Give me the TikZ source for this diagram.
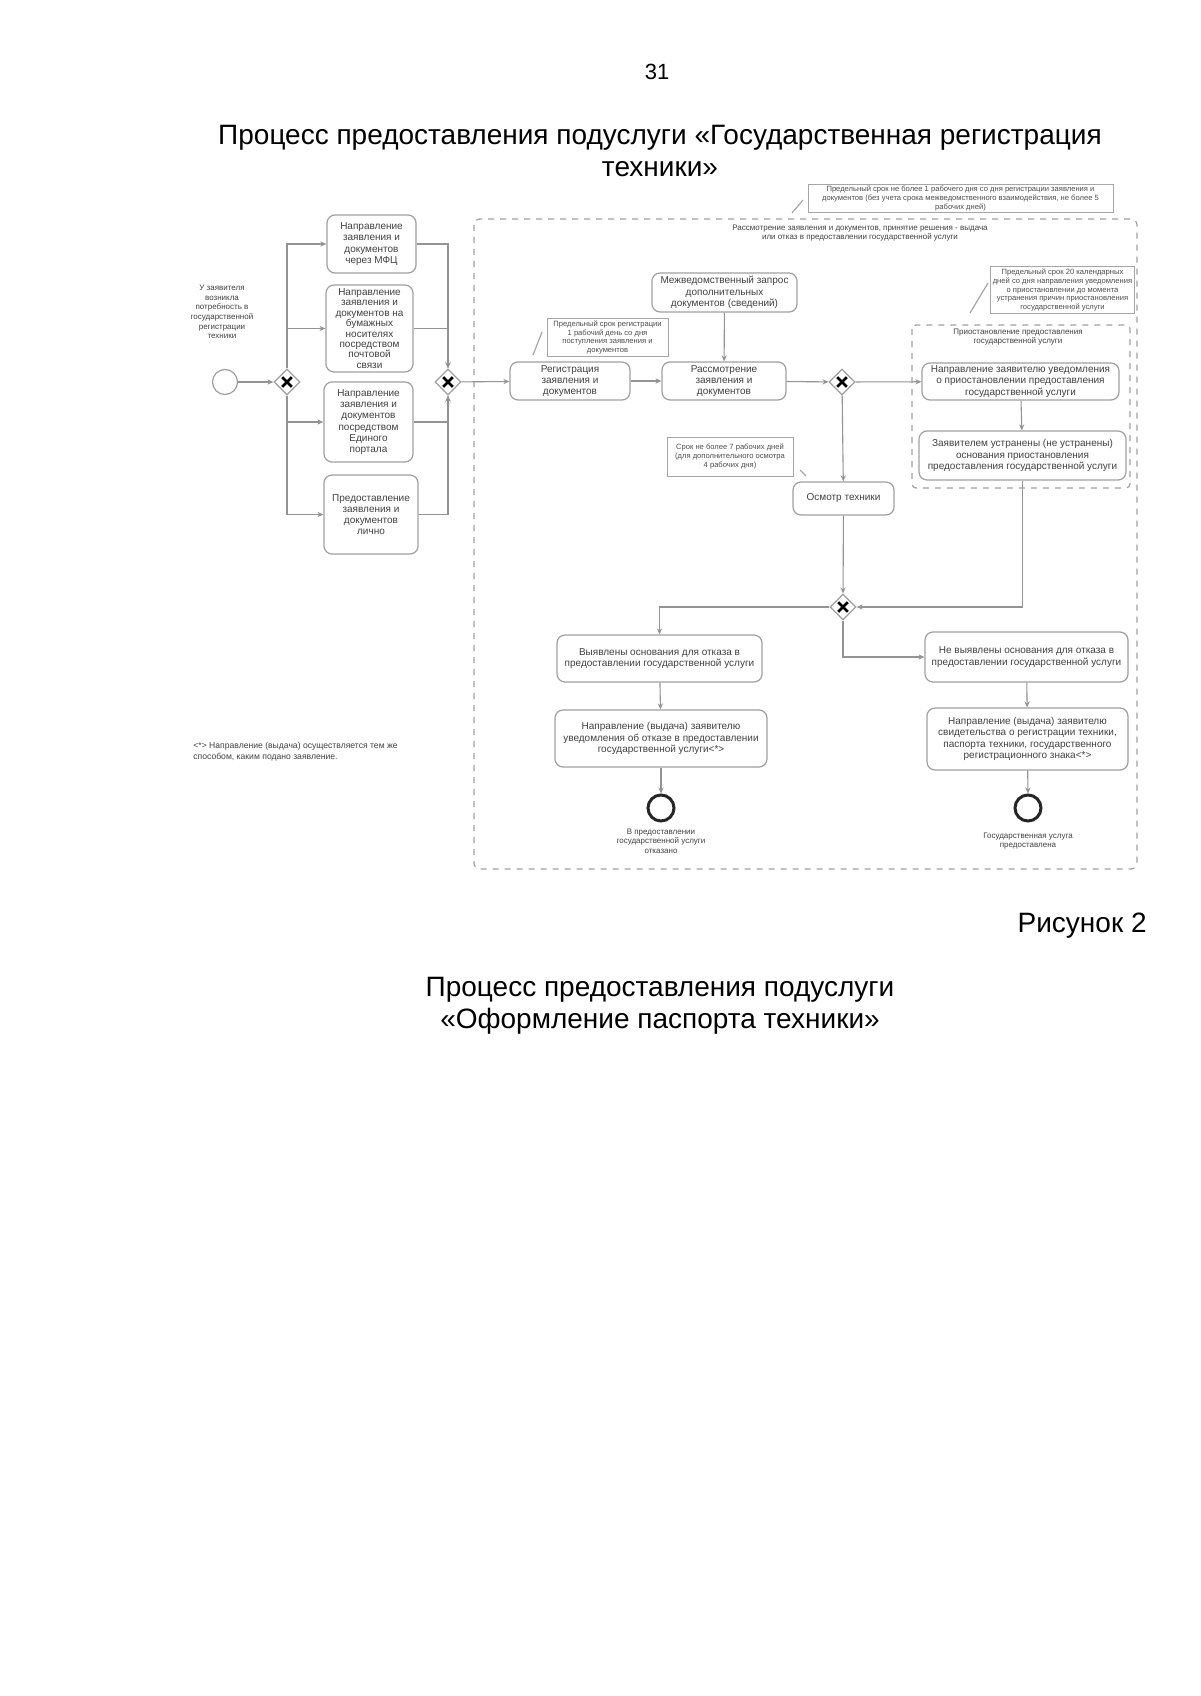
\documentclass[tikz,border=0pt]{standalone}
\usepackage{fontspec}
\setmainfont{Liberation Sans}
\usetikzlibrary{shapes.geometric,arrows.meta,calc}
\begin{document}
\begin{tikzpicture}[x=0.5pt,y=-0.5pt,
  task/.style={draw=gray!75, rounded corners=4pt, align=center, text=black!75,
    font=\fontsize{5}{5.6}\selectfont, inner sep=1pt, line width=0.6pt},
  annot/.style={draw=gray!70, align=center, text=black!70,
    font=\fontsize{3.8}{4.4}\selectfont, inner sep=1pt, line width=0.5pt},
  lbl/.style={align=center, text=black!75, font=\fontsize{4}{4.8}\selectfont, inner sep=0pt},
  gw/.style={diamond, draw=gray!75, fill=white, minimum size=13pt, inner sep=0pt, line width=0.6pt,
    path picture={
      \draw[line width=1.4pt,black] ([shift={(-2.4pt,-2.4pt)}]path picture bounding box.center) -- ([shift={(2.4pt,2.4pt)}]path picture bounding box.center);
      \draw[line width=1.4pt,black] ([shift={(-2.4pt,2.4pt)}]path picture bounding box.center) -- ([shift={(2.4pt,-2.4pt)}]path picture bounding box.center);}},
  startev/.style={circle, draw=gray!75, minimum size=12.5pt, inner sep=0pt, line width=0.6pt},
  endev/.style={circle, draw=black!85, minimum size=13pt, inner sep=0pt, line width=1.5pt},
  flow/.style={draw=gray!85, line width=0.55pt, -{Stealth[length=3pt,width=2.6pt]}},
  assoc/.style={draw=gray!70, line width=0.6pt},
  title/.style={font=\fontsize{14}{16}\selectfont, align=center, inner sep=0pt}
]
\useasboundingbox (0,0) rectangle (1200,1696);

% page texts
\node[font=\fontsize{11}{13}\selectfont, inner sep=0pt] (pnum) at (657,72) {31};
\node[title] (t1) at (660,151) {Процесс предоставления подуслуги «Государственная регистрация\\техники»};
\node[title, anchor=east] (fig) at (1147,926) {Рисунок 2};
\node[title] (t2) at (660,1006) {Процесс предоставления подуслуги\\«Оформление паспорта техники»};

% container and group
\draw[dashed, gray!75, line width=0.6pt, rounded corners=3pt] (474,219) rectangle (1137,869);
\node[lbl] (clbl) at (860,233) {Рассмотрение заявления и документов, принятие решения - выдача\\или отказ в предоставлении государственной услуги};
\draw[dashed, gray!75, line width=0.6pt, rounded corners=2pt] (912,325) rectangle (1130,488);
\node[lbl] (glbl) at (1018,337) {Приостановление предоставления\\государственной услуги};

% start
\node[startev] (start) at (225,382) {};
\node[lbl] (slbl) at (222,312) {У заявителя\\возникла\\потребность в\\государственной\\регистрации\\техники};
\node[gw] (gw1) at (287,382) {};
\node[gw] (gw2) at (448,382) {};

% submission tasks
\node[task, minimum width=44.5pt, minimum height=29pt] (b1) at (371.5,244) {Направление\\заявления и\\документов\\через МФЦ};
\node[task, minimum width=43.5pt, minimum height=43.5pt, font=\fontsize{5}{5.2}\selectfont] (b2) at (369.5,328.5) {Направление\\заявления и\\документов на\\бумажных\\носителях\\посредством\\почтовой\\связи};
\node[task, minimum width=44.5pt, minimum height=40pt] (b3) at (368.5,422) {Направление\\заявления и\\документов\\посредством\\Единого\\портала};
\node[task, minimum width=47pt, minimum height=39.5pt] (b4) at (371,514.5) {Предоставление\\заявления и\\документов\\лично};

% main tasks
\node[task, minimum width=60pt, minimum height=19pt] (reg) at (570,381) {Регистрация\\заявления и\\документов};
\node[task, minimum width=62pt, minimum height=19pt] (ras) at (724,381) {Рассмотрение\\заявления и\\документов};
\node[task, minimum width=72.5pt, minimum height=19.5pt] (mezh) at (724.5,292.5) {Межведомственный запрос\\дополнительных\\документов (сведений)};
\node[gw] (gw3) at (842,382) {};
\node[task, minimum width=98.5pt, minimum height=18.5pt] (napr) at (1020.5,381.5) {Направление заявителю уведомления\\о приостановлении предоставления\\государственной услуги};
\node[task, minimum width=103.5pt, minimum height=24.5pt] (zayav) at (1022.5,455.5) {Заявителем устранены (не устранены)\\основания приостановления\\предоставления государственной услуги};
\node[task, minimum width=50.5pt, minimum height=16.5pt] (osm) at (843.5,498.5) {Осмотр техники};
\node[gw] (gw4) at (843,607) {};
\node[task, minimum width=102.5pt, minimum height=23.5pt] (vyyav) at (659.5,658.5) {Выявлены основания для отказа в\\предоставлении государственной услуги};
\node[task, minimum width=106pt, minimum height=28.5pt] (otkaz) at (661,738.5) {Направление (выдача) заявителю\\уведомления об отказе в предоставлении\\государственной услуги<*>};
\node[endev] (end1) at (661,808) {};
\node[lbl] (e1lbl) at (661,841) {В предоставлении\\государственной услуги\\отказано};
\node[task, minimum width=101.5pt, minimum height=25pt] (nevyyav) at (1026.5,657) {Не выявлены основания для отказа в\\предоставлении государственной услуги};
\node[task, minimum width=100.5pt, minimum height=31pt] (vydacha) at (1027.5,739) {Направление (выдача) заявителю\\свидетельства о регистрации техники,\\паспорта техники, государственного\\регистрационного знака<*>};
\node[endev] (end2) at (1028,808) {};
\node[lbl] (e2lbl) at (1028,841) {Государственная услуга\\предоставлена};

% annotations
\node[annot, minimum width=152.5pt, minimum height=13.5pt] (antop) at (960.5,198.5) {Предельный срок не более 1 рабочего дня со дня регистрации заявления и\\документов (без учета срока межведомственного взаимодействия, не более 5\\рабочих дней)};
\coordinate (atop1) at (792,213); \coordinate (atop2) at (803,200);
\draw[assoc] (atop1) -- (atop2);
\node[annot, minimum width=69.5pt, minimum height=22pt] (anright) at (1062.5,290) {Предельный срок 20 календарных\\дней со дня направления уведомления\\о приостановлении до момента\\устранения причин приостановления\\государственной услуги};
\coordinate (ar1) at (970,313); \coordinate (ar2) at (988,283);
\draw[assoc] (ar1) -- (ar2);
\node[annot, minimum width=60.5pt, minimum height=17.5pt] (anreg) at (607.5,337.5) {Предельный срок регистрации\\1 рабочий день со дня\\поступления заявления и\\документов};
\coordinate (ag1) at (533,355); \coordinate (ag2) at (542,332);
\draw[assoc] (ag1) -- (ag2);
\node[annot, minimum width=63pt, minimum height=19.5pt] (anosm) at (730,456.5) {Срок не более 7 рабочих дней\\(для дополнительного осмотра\\4 рабочих дня)};
\coordinate (ao1) at (800,470); \coordinate (ao2) at (806,476);
\draw[assoc] (ao1) -- (ao2);

% footnote
\node[lbl, align=left, anchor=north west, font=\fontsize{4.3}{5.2}\selectfont] (foot) at (193,742) {<*> Направление (выдача) осуществляется тем же\\способом, каким подано заявление.};

% flows
\draw[flow] (start) -- (gw1);
\draw[flow] (gw1.north) |- (b1.west);
\draw[flow] (gw1.north) |- (b2.west);
\draw[flow] (gw1.south) |- (b3.west);
\draw[flow] (gw1.south) |- (b4.west);
\draw[flow] (b1.east) -| (gw2.north);
\draw[flow] (b2.east) -| (gw2.north);
\draw[flow] (b3.east) -| (gw2.south);
\draw[flow] (b4.east) -| (gw2.south);
\draw[flow] (gw2) -- (reg);
\draw[flow] (reg) -- (ras);
\draw[flow] (mezh) -- (ras);
\draw[flow] (ras) -- (gw3);
\draw[flow] (gw3) -- (napr);
\draw[flow] (napr) -- (zayav);
\draw[flow] (gw3) -- (osm);
\draw[flow] (osm) -- (gw4);
\draw[flow] (zayav.south) |- (gw4.east);
\draw[flow] (gw4.west) -| (vyyav.north);
\draw[flow] (gw4.south) |- (nevyyav.west);
\draw[flow] (vyyav) -- (otkaz);
\draw[flow] (otkaz) -- (end1);
\draw[flow] (nevyyav) -- (vydacha);
\draw[flow] (vydacha) -- (end2);
\end{tikzpicture}
\end{document}
